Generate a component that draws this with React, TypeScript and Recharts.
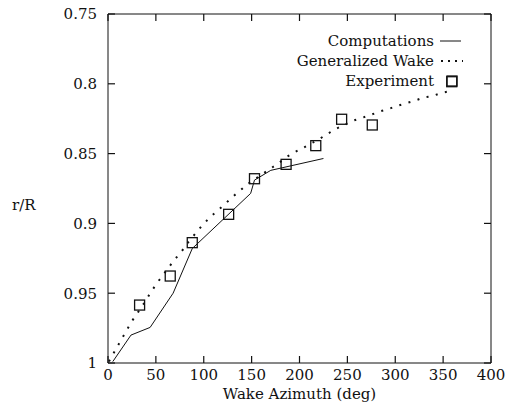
import React from "react";
import { ComposedChart, Line, Scatter, XAxis, YAxis } from "recharts";

// Computations (solid line)
const compAzimuth = [5, 24, 44, 68, 88, 149, 153, 170, 225];
const compRadius = [0.999, 0.98, 0.9745, 0.95, 0.918, 0.8785, 0.869, 0.862, 0.8535];

// Generalized Wake (dotted line)
const wakeAzimuth = [
  1, 5, 10, 15, 20, 25, 36, 46, 52, 64, 70, 76, 82, 94, 101, 108, 123, 130, 138,
  145, 154, 170, 178, 186, 194, 203, 220, 229, 237, 257, 274, 283, 292, 301, 311,
  321, 330, 339, 348, 359,
];
const wakeRadius = [
  0.999, 0.994, 0.988, 0.982, 0.976, 0.97, 0.959, 0.948, 0.942, 0.931, 0.9255,
  0.921, 0.915, 0.905, 0.8995, 0.8947, 0.8856, 0.881, 0.8765, 0.8722, 0.868,
  0.8606, 0.857, 0.8527, 0.8493, 0.8462, 0.8398, 0.836, 0.8326, 0.8262, 0.8224,
  0.82, 0.8183, 0.816, 0.814, 0.812, 0.8097, 0.8088, 0.8065, 0.805,
];

// Experiment (squares)
const expAzimuth = [33, 65, 88, 126, 153, 186, 217, 244, 276, 359];
const expRadius = [0.9585, 0.9377, 0.9138, 0.8935, 0.868, 0.8577, 0.8443, 0.8254, 0.8295, 0.7985];

const xTicks = [0, 50, 100, 150, 200, 250, 300, 350, 400];
const yTicks = [0.75, 0.8, 0.85, 0.9, 0.95, 1];
const yTickLabels = ["0.75", "0.8", "0.85", "0.9", "0.95", "1"];

const legendLabels = ["Computations", "Generalized Wake", "Experiment"];

const toPoints = (xs: number[], ys: number[]) =>
  xs.map((x, i) => ({ az: x, r: ys[i] }));

const compData = toPoints(compAzimuth, compRadius);
const wakeData = toPoints(wakeAzimuth, wakeRadius);
const expData = toPoints(expAzimuth, expRadius);

const FONT = "'DejaVu Serif', serif";
const INK = "#111";
const FS = 15;
const TICK_LEN = 7;
const X_MARGIN = 6;
const Y_MARGIN = 11;

const SquareShape = (props: any) => {
  const { cx, cy } = props;
  if (cx == null || cy == null) return null;
  const s = 10;
  return (
    <rect
      x={cx - s / 2}
      y={cy - s / 2}
      width={s}
      height={s}
      fill="none"
      stroke={INK}
      strokeWidth={1.3}
    />
  );
};

const BottomTick = (props: any) => {
  const { x, y, payload } = props;
  const axisY = y - X_MARGIN;
  return (
    <g>
      <line x1={x} y1={axisY} x2={x} y2={axisY - TICK_LEN} stroke={INK} strokeWidth={1.2} />
      <text x={x} y={y} dy="0.71em" textAnchor="middle" fontFamily={FONT} fontSize={FS} fill={INK}>
        {payload.value}
      </text>
    </g>
  );
};

const TopTick = (props: any) => {
  const { x, y } = props;
  return <line x1={x} y1={y} x2={x} y2={y + TICK_LEN} stroke={INK} strokeWidth={1.2} />;
};

const LeftTick = (props: any) => {
  const { x, y, payload } = props;
  const axisX = x + Y_MARGIN;
  const idx = yTicks.indexOf(payload.value);
  return (
    <g>
      <line x1={axisX} y1={y} x2={axisX + TICK_LEN} y2={y} stroke={INK} strokeWidth={1.2} />
      <text x={x} y={y} dy="0.36em" textAnchor="end" fontFamily={FONT} fontSize={FS} fill={INK}>
        {idx >= 0 ? yTickLabels[idx] : String(payload.value)}
      </text>
    </g>
  );
};

const RightTick = (props: any) => {
  const { x, y } = props;
  return <line x1={x} y1={y} x2={x - TICK_LEN} y2={y} stroke={INK} strokeWidth={1.2} />;
};

const LegendBox = () => (
  <div
    style={{
      position: "absolute",
      top: 31,
      right: 42,
      fontFamily: FONT,
      fontSize: FS,
      color: INK,
    }}
  >
    {legendLabels.map((label, i) => (
      <div
        key={label}
        style={{
          display: "flex",
          justifyContent: "flex-end",
          alignItems: "center",
          height: 20,
          whiteSpace: "nowrap",
        }}
      >
        <span>{label}</span>
        <svg width={24} height={14} style={{ marginLeft: 5 }}>
          {i === 0 && <line x1={1} y1={7} x2={22} y2={7} stroke={INK} strokeWidth={1} />}
          {i === 1 && (
            <line x1={2} y1={7} x2={24} y2={7} stroke={INK} strokeWidth={2} strokeDasharray="2 5" />
          )}
          {i === 2 && (
            <rect x={8} y={2} width={10} height={10} fill="none" stroke={INK} strokeWidth={1.3} />
          )}
        </svg>
      </div>
    ))}
  </div>
);

export default function App() {
  return (
    <div style={{ position: "absolute", left: 0, top: 0, width: 505, height: 414, background: "#fff" }}>
      <ComposedChart width={505} height={414} margin={{ top: 13, right: 13, left: 0, bottom: 0 }}>
        <XAxis
          xAxisId="bottom"
          type="number"
          dataKey="az"
          domain={[0, 400]}
          ticks={xTicks}
          allowDataOverflow
          height={51}
          tickSize={0}
          tickMargin={X_MARGIN}
          tick={<BottomTick />}
          interval={0}
          stroke={INK}
          label={{
            value: "Wake Azimuth (deg)",
            position: "insideBottom",
            offset: 15,
            style: { fontFamily: FONT, fontSize: FS, fill: INK },
          }}
        />
        <XAxis
          xAxisId="top"
          orientation="top"
          type="number"
          dataKey="az"
          domain={[0, 400]}
          ticks={xTicks}
          allowDataOverflow
          height={1}
          tickSize={0}
          tickMargin={0}
          tick={<TopTick />}
          interval={0}
          stroke={INK}
        />
        <YAxis
          yAxisId="left"
          type="number"
          dataKey="r"
          domain={[0.75, 1]}
          ticks={yTicks}
          reversed
          allowDataOverflow
          width={108}
          tickSize={0}
          tickMargin={Y_MARGIN}
          tick={<LeftTick />}
          interval={0}
          stroke={INK}
          label={{
            value: "r/R",
            position: "insideLeft",
            angle: 0,
            offset: 12,
            dy: 16,
            style: { fontFamily: FONT, fontSize: FS, fill: INK },
          }}
        />
        <YAxis
          yAxisId="right"
          orientation="right"
          type="number"
          dataKey="r"
          domain={[0.75, 1]}
          ticks={yTicks}
          reversed
          allowDataOverflow
          width={1}
          tickSize={0}
          tickMargin={0}
          tick={<RightTick />}
          interval={0}
          stroke={INK}
        />
        <Line
          xAxisId="bottom"
          yAxisId="left"
          data={compData}
          dataKey="r"
          type="linear"
          stroke={INK}
          strokeWidth={1}
          dot={false}
          activeDot={false}
          isAnimationActive={false}
          name="Computations"
        />
        <Line
          xAxisId="bottom"
          yAxisId="left"
          data={wakeData}
          dataKey="r"
          type="linear"
          stroke={INK}
          strokeWidth={2}
          strokeDasharray="2 7.5"
          dot={false}
          activeDot={false}
          isAnimationActive={false}
          name="Generalized Wake"
        />
        <Scatter
          xAxisId="bottom"
          yAxisId="left"
          data={expData}
          dataKey="r"
          shape={<SquareShape />}
          isAnimationActive={false}
          name="Experiment"
        />
        <Line
          xAxisId="top"
          yAxisId="right"
          data={expData}
          dataKey="r"
          stroke="none"
          dot={false}
          activeDot={false}
          legendType="none"
          isAnimationActive={false}
        />
      </ComposedChart>
      <LegendBox />
    </div>
  );
}
